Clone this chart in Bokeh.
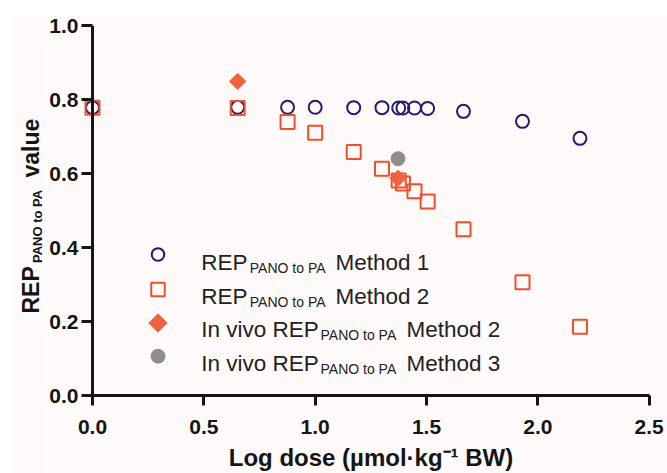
import math

from bokeh.embed import file_html
from bokeh.layouts import column, row
from bokeh.models import (FixedTicker, GlobalInlineStyleSheet, Label,
                          PrintfTickFormatter, Range1d, Span, Spacer)
from bokeh.plotting import figure
from bokeh.resources import INLINE

# Log dose (umol/kg BW) and relative potency estimates
log_dose = [0.0, 0.652, 0.876, 1.0, 1.173, 1.30, 1.375, 1.394, 1.446, 1.505, 1.666, 1.931, 2.189]
rep_method1 = [0.778, 0.779, 0.779, 0.779, 0.778, 0.778, 0.777, 0.777, 0.777, 0.776, 0.768, 0.741, 0.695]
rep_method2 = [0.778, 0.777, 0.739, 0.710, 0.658, 0.613, 0.581, 0.573, 0.552, 0.524, 0.449, 0.306, 0.186]

invivo_m2_dose = [0.652, 1.372]
invivo_m2_rep = [0.849, 0.587]
invivo_m3_dose = [1.372]
invivo_m3_rep = [0.640]

x_ticks = [0.0, 0.5, 1.0, 1.5, 2.0, 2.5]
y_ticks = [0.0, 0.2, 0.4, 0.6, 0.8, 1.0]

BG = "#fefaf9"
INK = "#151515"
TXT = "#222222"
NAVY = "#251a6c"
ORANGE = "#f04e2c"
SALMON = "#ee6440"
GREY = "#8e8e8e"
FONT = "Liberation Sans"

# page geometry (pixels)
PAGE_DX, PAGE_DY = 13, 15          # white strip left / top
TITLE_W = 33                       # strip holding the rotated y title
FRAME_L, FRAME_T = 81, 25          # plot frame origin on the page
FRAME_W, FRAME_H = 579, 370
BOTTOM = 78
UNIT = 222.68                      # pixels per log unit
X0 = -(11 / UNIT)                  # a little room left of x = 0
X1 = X0 + FRAME_W / UNIT


def px_x(px):
    return X0 + (px - FRAME_L) / UNIT


def px_y(py):
    return (FRAME_T + FRAME_H - py) / FRAME_H


# ---------------------------------------------------------------- main plot
p = figure(
    frame_width=FRAME_W, frame_height=FRAME_H,
    x_range=Range1d(X0, X1), y_range=Range1d(0, 1.0),
    min_border_left=FRAME_L - PAGE_DX - TITLE_W, min_border_right=7,
    min_border_top=FRAME_T - PAGE_DY, min_border_bottom=BOTTOM,
    output_backend="svg", toolbar_location=None,
    background_fill_color=BG, border_fill_color=BG, outline_line_color=None,
)
p.xgrid.visible = False
p.ygrid.visible = False

for ax in (p.xaxis[0], p.yaxis[0]):
    ax.axis_line_width = 3
    ax.axis_line_color = INK
    ax.major_tick_line_width = 3
    ax.major_tick_line_color = INK
    ax.minor_tick_line_color = None
    ax.major_label_text_font = FONT
    ax.major_label_text_font_style = "bold"
    ax.major_label_text_font_size = "21px"
    ax.major_label_text_color = INK
    ax.formatter = PrintfTickFormatter(format="%.1f")

p.xaxis.ticker = FixedTicker(ticks=x_ticks)
p.xaxis.bounds = (0, 2.5)
p.xaxis.major_tick_in = 0
p.xaxis.major_tick_out = 10
p.xaxis.major_label_standoff = 14
p.xaxis.axis_label = "Log dose (µmol·kg⁻¹ BW)"
p.xaxis.axis_label_text_font = FONT
p.xaxis.axis_label_text_font_style = "bold"
p.xaxis.axis_label_text_font_size = "24px"
p.xaxis.axis_label_text_color = INK
p.xaxis.axis_label_standoff = 7

# y axis: ticks and labels from the axis, its line sits at x = 0
p.yaxis.ticker = FixedTicker(ticks=y_ticks)
p.yaxis.axis_line_color = None
p.yaxis.major_tick_out = 0
p.yaxis.major_tick_in = 11
p.yaxis.major_label_standoff = 3
p.add_layout(Span(location=0, dimension="height", line_color=INK, line_width=3))

p.scatter(log_dose, rep_method1, marker="circle", size=13, fill_color=None,
          line_color=NAVY, line_width=2)
p.scatter(log_dose, rep_method2, marker="square", size=14, fill_color=None,
          line_color=ORANGE, line_width=2)
p.scatter(invivo_m2_dose, invivo_m2_rep, marker="square", angle=math.pi / 4,
          size=11.5, fill_color=SALMON, line_color=SALMON, line_width=1)
p.scatter(invivo_m3_dose, invivo_m3_rep, marker="circle", size=14,
          fill_color=GREY, line_color=GREY)

# legend: keys and entries (the entries carry subscripts)
key_x = px_x(157.5)
key_rows = [254, 289, 322.5, 355.7]
p.scatter([key_x], [px_y(key_rows[0])], marker="circle", size=12.5,
          fill_color=None, line_color=NAVY, line_width=2)
p.scatter([key_x], [px_y(key_rows[1])], marker="square", size=13.5,
          fill_color=None, line_color=ORANGE, line_width=2)
p.scatter([key_x], [px_y(key_rows[2])], marker="square", angle=math.pi / 4,
          size=13, fill_color=SALMON, line_color=SALMON, line_width=1)
p.scatter([key_x], [px_y(key_rows[3])], marker="circle", size=14,
          fill_color=GREY, line_color=GREY)

entries = [
    ("REP", 249.3, "Method 1", 335),
    ("REP", 249.3, "Method 2", 335),
    ("In vivo REP", 320, "Method 2", 406),
    ("In vivo REP", 320, "Method 3", 406),
]
for i, (head, sub_x, tail, tail_x) in enumerate(entries):
    base = 262 + 33.5 * i
    for px, py, text, size in ((200.7, base, head, "22.5px"),
                               (sub_x, base + 5.5, "PANO to PA", "14px"),
                               (tail_x, base, tail, "22.5px")):
        p.add_layout(Label(
            x=px_x(px), y=px_y(py), text=text,
            text_font=FONT, text_font_size=size, text_color=TXT,
            text_align="left", text_baseline="alphabetic",
        ))

# ------------------------------------------------------- rotated y-axis title
# a narrow companion plot whose frame lines up with the main frame;
# its data units are page pixels
ttl = figure(
    frame_width=TITLE_W, frame_height=FRAME_H,
    x_range=Range1d(PAGE_DX, PAGE_DX + TITLE_W),
    y_range=Range1d(FRAME_T + FRAME_H, FRAME_T),
    min_border_left=0, min_border_right=0,
    min_border_top=FRAME_T - PAGE_DY, min_border_bottom=BOTTOM,
    x_axis_location=None, y_axis_location=None,
    output_backend="svg", toolbar_location=None,
    background_fill_color=BG, border_fill_color=BG, outline_line_color=None,
)
ttl.xgrid.visible = False
ttl.ygrid.visible = False

up = math.pi / 2
for px, py, text, size in ((30, 313, "REP", "23px"),
                           (37, 262.5, "PANO to PA", "13px"),
                           (30, 177, "value", "23px")):
    ttl.add_layout(Label(
        x=px, y=py, text=text, angle=up,
        text_font=FONT, text_font_size=size, text_font_style="bold",
        text_color=INK, text_align="left", text_baseline="alphabetic",
    ))

layout = row(
    Spacer(width=PAGE_DX),
    column(Spacer(height=PAGE_DY), row(ttl, p)),
    stylesheets=[GlobalInlineStyleSheet(css="html, body { overflow: hidden; margin: 0; }")],
)

with open("out.html", "w") as f:
    f.write(file_html(layout, INLINE))
